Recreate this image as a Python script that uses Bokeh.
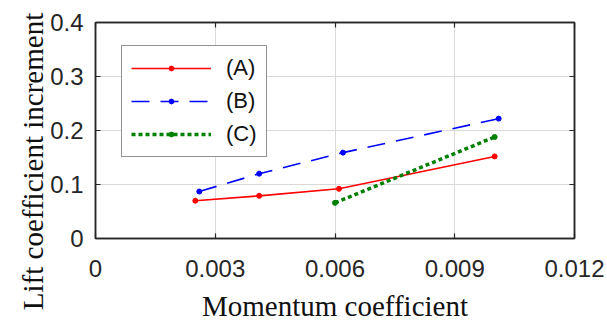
import math
from bokeh.plotting import figure
from bokeh.layouts import row, column
from bokeh.models import (Range1d, FixedTicker, LinearAxis, Legend, LegendItem)
from bokeh.core.properties import value
from bokeh.embed import file_html
from bokeh.resources import INLINE

# ---- data ----
x_A = [0.0025, 0.0041, 0.0061, 0.0100]
y_A = [0.070, 0.079, 0.092, 0.152]
x_B = [0.0026, 0.0041, 0.0062, 0.0101]
y_B = [0.087, 0.120, 0.159, 0.222]
x_C = [0.0060, 0.0100]
y_C = [0.066, 0.188]
labels = ["(A)", "(B)", "(C)"]
x_ticks = [0, 0.003, 0.006, 0.009, 0.012]
x_tick_labels = ["0", "0.003", "0.006", "0.009", "0.012"]
y_ticks = [0, 0.1, 0.2, 0.3, 0.4]
y_tick_labels = ["0", "0.1", "0.2", "0.3", "0.4"]
x_title = "Momentum coefficient"
y_title = "Lift coefficient increment"

DARK = "#262626"
TICK_FONT = "Liberation Sans"
LABEL_FONT = "Liberation Serif"

LEFT_W, MAIN_W, H = 44, 563, 324

p = figure(width=MAIN_W, height=H, output_backend="svg", toolbar_location=None,
           title=None,
           x_range=Range1d(0, 0.012), y_range=Range1d(0, 0.4),
           min_border_left=51, min_border_right=33, min_border_top=22,
           min_border_bottom=86)
p.background_fill_color = "white"
p.border_fill_color = "white"
p.outline_line_color = DARK
p.outline_line_width = 1.5

def style_axis(ax, ticks, tick_labels, show_labels=True):
    ax.ticker = FixedTicker(ticks=ticks)
    ax.major_label_overrides = {t: l for t, l in zip(ticks, tick_labels)}
    ax.axis_line_color = DARK
    ax.axis_line_width = 1.5
    ax.major_tick_line_color = DARK
    ax.major_tick_line_width = 1.2
    ax.major_tick_in = 5
    ax.major_tick_out = 0
    ax.minor_tick_line_color = None
    ax.major_label_text_font = TICK_FONT
    ax.major_label_text_font_size = "24px" if show_labels else "0px"
    ax.major_label_text_color = DARK

xa = p.xaxis[0]
ya = p.yaxis[0]
style_axis(xa, x_ticks, x_tick_labels)
style_axis(ya, y_ticks, y_tick_labels)
xa.major_label_standoff = 21
ya.major_label_standoff = 12
xa.axis_label = x_title
xa.axis_label_text_font = LABEL_FONT
xa.axis_label_text_font_size = "29px"
xa.axis_label_text_font_style = "normal"
xa.axis_label_text_color = "#111111"
xa.axis_label_standoff = 10

top_ax = LinearAxis()
right_ax = LinearAxis()
style_axis(top_ax, x_ticks, ["" for _ in x_ticks], show_labels=False)
style_axis(right_ax, y_ticks, ["" for _ in y_ticks], show_labels=False)
top_ax.major_label_standoff = 0
right_ax.major_label_standoff = 0
p.add_layout(top_ax, "above")
p.add_layout(right_ax, "right")

p.xgrid.ticker = FixedTicker(ticks=x_ticks)
p.ygrid.ticker = FixedTicker(ticks=y_ticks)
for g in (p.xgrid[0], p.ygrid[0]):
    g.grid_line_color = "#d9d9d9"
    g.grid_line_width = 1

lA = p.line(x_A, y_A, line_color="#ff0000", line_width=1.6)
sA = p.scatter(x_A, y_A, size=5, color="#ff0000")
lB = p.line(x_B, y_B, line_color="#0000ff", line_width=1.6, line_dash="18 11")
sB = p.scatter(x_B, y_B, size=5, color="#0000ff")
lC = p.line(x_C, y_C, line_color="#008000", line_width=3.5, line_dash="4 3")
sC = p.scatter(x_C, y_C, size=5, color="#008000")

legend = Legend(items=[
    LegendItem(label=labels[0], renderers=[lA, sA]),
    LegendItem(label=labels[1], renderers=[lB, sB]),
    LegendItem(label=labels[2], renderers=[lC, sC]),
], location=(26, 81))
legend.glyph_width = 80
legend.glyph_height = 12
legend.label_height = 12
legend.label_standoff = 15
legend.padding = 9
legend.spacing = 7
legend.margin = 0
legend.label_text_font = TICK_FONT
legend.label_text_font_size = "22px"
legend.label_text_color = "#111111"
legend.border_line_color = DARK
legend.border_line_width = 1.5
legend.background_fill_color = "white"
legend.background_fill_alpha = 1
p.add_layout(legend, "center")

# y-axis title (centred on the whole figure height, as in the reference)
left = figure(width=LEFT_W, height=H, output_backend="svg", toolbar_location=None,
              title=None, x_range=Range1d(0, LEFT_W), y_range=Range1d(0, H),
              x_axis_location=None, y_axis_location=None,
              min_border=0, min_border_left=0, min_border_right=0,
              min_border_top=0, min_border_bottom=0)
left.grid.visible = False
left.outline_line_color = None
left.background_fill_color = "white"
left.border_fill_color = "white"
left.text(x=[32], y=[163], text=[y_title], angle=math.pi / 2,
          text_align="center", text_baseline="alphabetic",
          text_font=value(LABEL_FONT), text_font_size="29px", text_color="#111111")

# wrapping the main plot in a column keeps the row from aligning the two frames
layout = row(left, column(p, spacing=0), spacing=0)
open("out.html", "w").write(file_html(layout, INLINE))
